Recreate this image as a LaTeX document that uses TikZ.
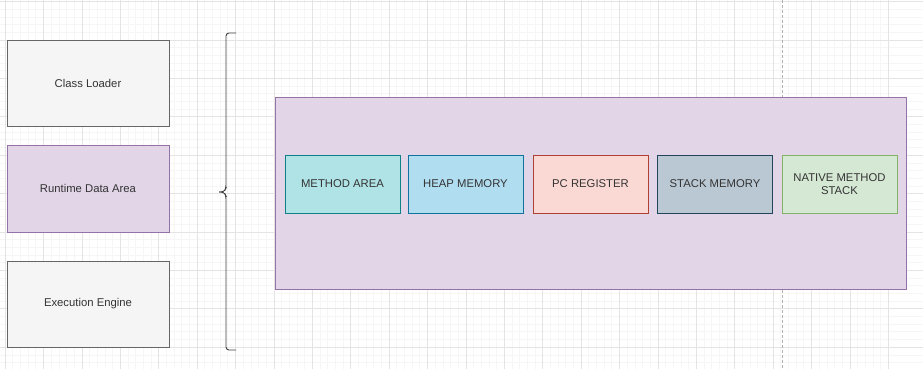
\documentclass[tikz,border=0pt]{standalone}
\usepackage{fontspec}
\setmainfont{Liberation Sans}
\usepackage{tikz}
\usetikzlibrary{positioning}
\usetikzlibrary{calc}

\definecolor{gridminor}{HTML}{F6F6F6}
\definecolor{gridmajor}{HTML}{E4E4E4}
\definecolor{txt}{HTML}{333333}
\definecolor{grayfill}{HTML}{F5F5F5}
\definecolor{graydraw}{HTML}{666666}
\definecolor{purplefill}{HTML}{E1D5E7}
\definecolor{purpledraw}{HTML}{9673A6}
\definecolor{tealfill}{HTML}{B0E3E6}
\definecolor{tealdraw}{HTML}{0E8088}
\definecolor{bluefill}{HTML}{B1DDF0}
\definecolor{bluedraw}{HTML}{10739E}
\definecolor{redfill}{HTML}{FAD9D5}
\definecolor{reddraw}{HTML}{AE4132}
\definecolor{slatefill}{HTML}{BAC8D3}
\definecolor{slatedraw}{HTML}{23445D}
\definecolor{greenfill}{HTML}{D5E8D4}
\definecolor{greendraw}{HTML}{82B366}

\tikzset{
  jvmbox/.style={draw=graydraw, fill=grayfill, text=txt, line width=0.8pt,
    minimum width=162pt, minimum height=86pt, inner sep=0pt,
    font=\fontsize{11.3}{13}\selectfont},
  areabox/.style={draw=#1draw, fill=#1fill, text=txt, line width=0.8pt,
    minimum width=115pt, minimum height=58pt, inner sep=0pt, align=center,
    font=\fontsize{11.3}{13}\selectfont}
}

\begin{document}
\begin{tikzpicture}[x=1pt, y=-1pt]

\useasboundingbox (0,0) rectangle (923,369);

% background grid
\foreach \gx in {0,...,120} {
  \draw[gridminor, line width=0.5pt] ({5+\gx*7.68-38.4},0) -- ({5+\gx*7.68-38.4},369);
}
\foreach \gy in {0,...,49} {
  \draw[gridminor, line width=0.5pt] (0,{1.5+\gy*7.68}) -- (923,{1.5+\gy*7.68});
}
\foreach \gx in {0,...,24} {
  \draw[gridmajor, line width=0.6pt] ({5+\gx*38.4},0) -- ({5+\gx*38.4},369);
}
\foreach \gy in {0,...,9} {
  \draw[gridmajor, line width=0.6pt] (0,{1.5+\gy*38.4}) -- (923,{1.5+\gy*38.4});
}
% page break
\draw[black!30, dash pattern=on 3pt off 2pt, line width=0.6pt] (782,0) -- (782,369);

% JVM parts
\node[jvmbox] (loader) at (88,83) {Class Loader};
\node[jvmbox, fill=purplefill, draw=purpledraw, minimum height=87pt] (runtime) at (88,188.5) {Runtime Data Area};
\node[jvmbox] (engine) at (88,304) {Execution Engine};

% brace
\draw[black!75, line width=0.9pt, rounded corners=3pt]
  (236,33) -- (226,33) -- (226,188) -- (224,192) -- (219,192);
\draw[black!75, line width=0.9pt, rounded corners=3pt]
  (219,192) -- (224,192) -- (226,196) -- (226,350) -- (236,350);

% runtime data area
\node[draw=purpledraw, fill=purplefill, line width=0.8pt,
  minimum width=631pt, minimum height=192pt, inner sep=0pt] (rda) at (590.5,193) {};

\node[areabox=teal] (method) at (342.5,184) {METHOD AREA};
\node[areabox=blue] (heap) at (465.5,184) {HEAP MEMORY};
\node[areabox=red] (pcreg) at (590.5,184) {PC REGISTER};
\node[areabox=slate] (stack) at (715,184) {STACK MEMORY};
\node[areabox=green] (native) at (839.5,184) {NATIVE METHOD\\STACK};

\end{tikzpicture}
\end{document}
